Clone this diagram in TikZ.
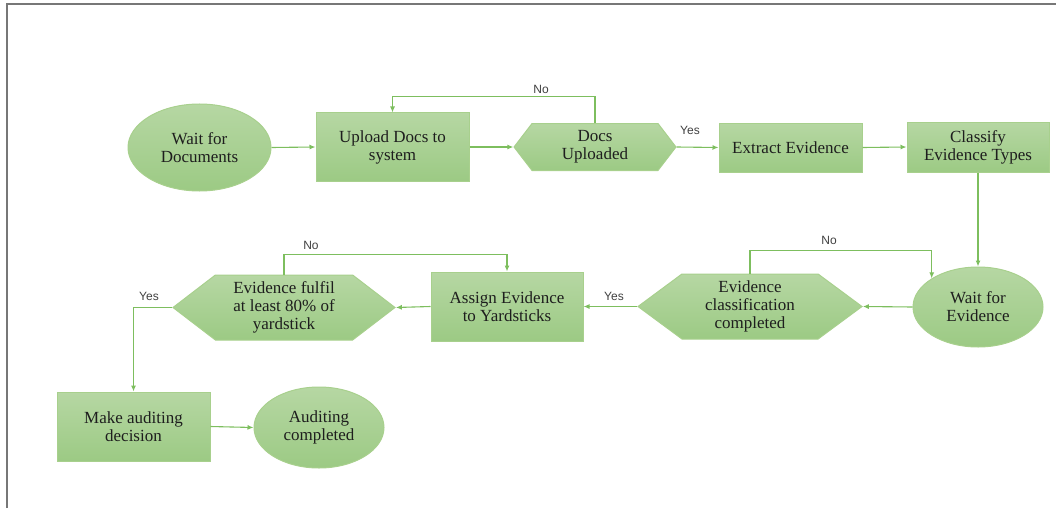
\documentclass[tikz,border=0pt]{standalone}
\usepackage{fontspec}
\setmainfont{Liberation Serif}
\newfontfamily\labelfont{Liberation Sans}
\usetikzlibrary{shapes.geometric,shapes.symbols,arrows.meta}
\definecolor{boxtop}{HTML}{B6D7A3}
\definecolor{boxbot}{HTML}{9CCA84}
\definecolor{boxedge}{HTML}{A8D08D}
\definecolor{flowgreen}{HTML}{7DBE5E}
\definecolor{framegray}{HTML}{777777}
\definecolor{ink}{HTML}{1E1E1E}
\begin{document}
\begin{tikzpicture}[x=1pt,y=-1pt,
  base/.style={draw=boxedge, line width=1pt, top color=boxtop, bottom color=boxbot,
    text=ink, font=\fontsize{17}{18}\selectfont, align=center, inner sep=0pt},
  proc/.style={base, rectangle},
  term/.style={base, ellipse},
  hexa/.style={base, signal, signal to=west and east},
  flow/.style={draw=flowgreen, line width=1.1pt, -{Latex[length=6pt,width=5pt]}},
  lbl/.style={font=\labelfont\fontsize{12}{14}\selectfont, text=ink!85}
]
\useasboundingbox (0,0) rectangle (1056,508);
% page frame
\draw[framegray, line width=2pt] (7,508) -- (7,4.5) -- (1056,4.5);

% top row
\node[term, minimum width=143pt, minimum height=87pt] (wd) at (199.5,147.5) {Wait for\\Documents};
\node[proc, minimum width=153pt, minimum height=68pt] (up) at (392.5,147) {Upload Docs to\\system};
\node[hexa, minimum width=162pt, minimum height=47pt, signal pointer angle=105] (du) at (595,147) {Docs\\Uploaded};
\node[proc, minimum width=143pt, minimum height=49pt] (ex) at (790.5,147.5) {Extract Evidence};
\node[proc, minimum width=142pt, minimum height=50pt] (cl) at (978,147) {Classify\\Evidence Types};

% middle row
\node[term, minimum width=130pt, minimum height=80pt] (we) at (978,307) {Wait for\\Evidence};
\node[hexa, minimum width=224pt, minimum height=65pt, signal pointer angle=73] (ec) at (750,306.5) {Evidence\\classification\\completed};
\node[proc, minimum width=152pt, minimum height=69pt] (as) at (507,306.5) {Assign Evidence\\to Yardsticks};
\node[hexa, minimum width=222pt, minimum height=65pt, signal pointer angle=75] (ff) at (284,307.5) {Evidence fulfil\\at least 80\% of\\yardstick};

% bottom row
\node[proc, minimum width=153pt, minimum height=69pt] (md) at (133.5,426.5) {Make auditing\\decision};
\node[term, minimum width=130pt, minimum height=81pt] (ac) at (319,427.5) {Auditing\\completed};

% connectors
\draw[flow] (wd.east) -- (up.west);
\draw[flow] (up.east) -- (du.west);
\draw[flow] (du.north) -- ++(0,-26.5) -| (up.north);
\node[lbl] (no1) at (541,89) {No};
\draw[flow] (du.east) -- (ex.west);
\node[lbl] (yes1) at (690,130) {Yes};
\draw[flow] (ex.east) -- (cl.west);
\draw[flow] (cl.south) -- (we.north);
\draw[flow] (we.west) -- (ec.east);
\draw[flow] (ec.north) -- ++(0,-23) -| (we.north west);
\node[lbl] (no2) at (829,240) {No};
\draw[flow] (ec.west) -- (as.east);
\node[lbl] (yes2) at (614,296) {Yes};
\draw[flow] (as.west) -- (ff.east);
\draw[flow] (ff.north) -- ++(0,-20) -| (as.north);
\node[lbl] (no3) at (311,245) {No};
\draw[flow] (ff.west) -| (md.north);
\node[lbl] (yes3) at (149,296) {Yes};
\draw[flow] (md.east) -- (ac.west);
\end{tikzpicture}
\end{document}
